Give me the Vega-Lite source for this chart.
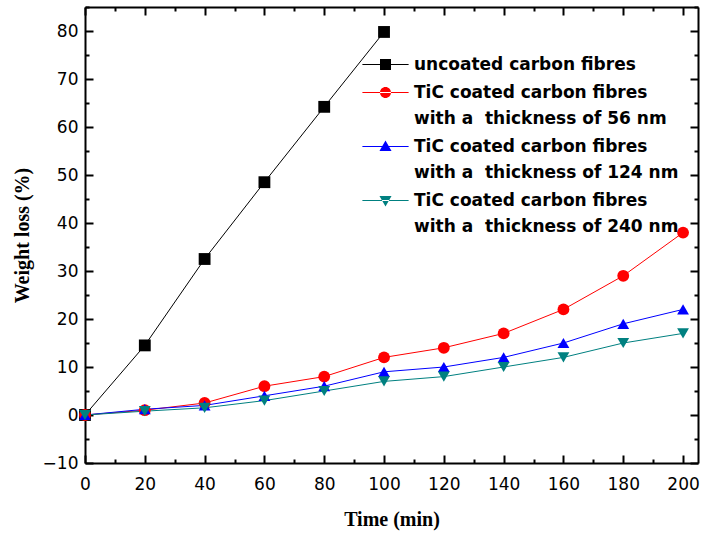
{
  "$schema": "https://vega.github.io/schema/vega-lite/v6.json",
  "autosize": {"type": "none"},
  "padding": {"left": 85, "top": 7, "right": 5, "bottom": 75},
  "width": 613,
  "height": 456,
  "background": "white",
  "config": {
    "view": {"stroke": null},
    "style": {"guide-label": {"lineHeight": 26.5}},
    "axis": {"labelFont": "DejaVu Sans", "labelFontSize": 17, "labelColor": "black", "labelFlush": false, "titleFont": "Liberation Serif", "titleFontSize": 20, "titleFontWeight": "bold", "titleColor": "black", "domainColor": "black", "domainWidth": 2, "tickColor": "black", "tickWidth": 2, "grid": false}
  },
  "data": {"values": [
    {"s": "uncoated carbon fibres", "t": 0, "w": 0},
    {"s": "uncoated carbon fibres", "t": 20, "w": 14.5},
    {"s": "uncoated carbon fibres", "t": 40, "w": 32.5},
    {"s": "uncoated carbon fibres", "t": 60, "w": 48.5},
    {"s": "uncoated carbon fibres", "t": 80, "w": 64.2},
    {"s": "uncoated carbon fibres", "t": 100, "w": 79.8},
    {"s": "TiC coated carbon fibres|with a\u00a0 thickness of 56 nm", "t": 0, "w": 0},
    {"s": "TiC coated carbon fibres|with a\u00a0 thickness of 56 nm", "t": 20, "w": 1},
    {"s": "TiC coated carbon fibres|with a\u00a0 thickness of 56 nm", "t": 40, "w": 2.5},
    {"s": "TiC coated carbon fibres|with a\u00a0 thickness of 56 nm", "t": 60, "w": 6},
    {"s": "TiC coated carbon fibres|with a\u00a0 thickness of 56 nm", "t": 80, "w": 8},
    {"s": "TiC coated carbon fibres|with a\u00a0 thickness of 56 nm", "t": 100, "w": 12},
    {"s": "TiC coated carbon fibres|with a\u00a0 thickness of 56 nm", "t": 120, "w": 14},
    {"s": "TiC coated carbon fibres|with a\u00a0 thickness of 56 nm", "t": 140, "w": 17},
    {"s": "TiC coated carbon fibres|with a\u00a0 thickness of 56 nm", "t": 160, "w": 22},
    {"s": "TiC coated carbon fibres|with a\u00a0 thickness of 56 nm", "t": 180, "w": 29},
    {"s": "TiC coated carbon fibres|with a\u00a0 thickness of 56 nm", "t": 200, "w": 38},
    {"s": "TiC coated carbon fibres|with a\u00a0 thickness of 124 nm", "t": 0, "w": 0},
    {"s": "TiC coated carbon fibres|with a\u00a0 thickness of 124 nm", "t": 20, "w": 1.2},
    {"s": "TiC coated carbon fibres|with a\u00a0 thickness of 124 nm", "t": 40, "w": 2},
    {"s": "TiC coated carbon fibres|with a\u00a0 thickness of 124 nm", "t": 60, "w": 4},
    {"s": "TiC coated carbon fibres|with a\u00a0 thickness of 124 nm", "t": 80, "w": 6},
    {"s": "TiC coated carbon fibres|with a\u00a0 thickness of 124 nm", "t": 100, "w": 9},
    {"s": "TiC coated carbon fibres|with a\u00a0 thickness of 124 nm", "t": 120, "w": 10},
    {"s": "TiC coated carbon fibres|with a\u00a0 thickness of 124 nm", "t": 140, "w": 12},
    {"s": "TiC coated carbon fibres|with a\u00a0 thickness of 124 nm", "t": 160, "w": 15},
    {"s": "TiC coated carbon fibres|with a\u00a0 thickness of 124 nm", "t": 180, "w": 19},
    {"s": "TiC coated carbon fibres|with a\u00a0 thickness of 124 nm", "t": 200, "w": 22},
    {"s": "TiC coated carbon fibres|with a\u00a0 thickness of 240 nm", "t": 0, "w": 0},
    {"s": "TiC coated carbon fibres|with a\u00a0 thickness of 240 nm", "t": 20, "w": 0.8},
    {"s": "TiC coated carbon fibres|with a\u00a0 thickness of 240 nm", "t": 40, "w": 1.5},
    {"s": "TiC coated carbon fibres|with a\u00a0 thickness of 240 nm", "t": 60, "w": 3},
    {"s": "TiC coated carbon fibres|with a\u00a0 thickness of 240 nm", "t": 80, "w": 5},
    {"s": "TiC coated carbon fibres|with a\u00a0 thickness of 240 nm", "t": 100, "w": 7},
    {"s": "TiC coated carbon fibres|with a\u00a0 thickness of 240 nm", "t": 120, "w": 8},
    {"s": "TiC coated carbon fibres|with a\u00a0 thickness of 240 nm", "t": 140, "w": 10},
    {"s": "TiC coated carbon fibres|with a\u00a0 thickness of 240 nm", "t": 160, "w": 12},
    {"s": "TiC coated carbon fibres|with a\u00a0 thickness of 240 nm", "t": 180, "w": 15},
    {"s": "TiC coated carbon fibres|with a\u00a0 thickness of 240 nm", "t": 200, "w": 17}
  ]},
  "resolve": {"scale": {"shape": "independent", "color": "independent"}, "axis": {"x": "independent", "y": "independent"}},
  "layer": [
    {
      "mark": {"type": "line", "strokeWidth": 1},
      "encoding": {
        "x": {"field": "t", "type": "quantitative", "scale": {"domain": [0, 205], "nice": false, "zero": false},
          "axis": {"title": "Time (min)", "orient": "bottom", "values": [0,10,20,30,40,50,60,70,80,90,100,110,120,130,140,150,160,170,180,190,200], "labelExpr": "datum.value % 20 === 0 ? datum.label : ''", "tickSize": {"condition": {"test": "datum.value % 20 === 0", "value": -8}, "value": -4}, "labelPadding": 21, "titlePadding": 17}},
        "y": {"field": "w", "type": "quantitative", "scale": {"domain": [-10, 85], "nice": false, "zero": false},
          "axis": {"title": "Weight loss (%)", "orient": "left", "values": [-10,-5,0,5,10,15,20,25,30,35,40,45,50,55,60,65,70,75,80,85], "labelExpr": "datum.value % 10 === 0 ? datum.label : ''", "tickSize": {"condition": {"test": "datum.value % 10 === 0", "value": -8}, "value": -4}, "labelPadding": 15, "titlePadding": 10}},
        "color": {"field": "s", "type": "nominal", "legend": null,
          "scale": {"domain": ["uncoated carbon fibres", "TiC coated carbon fibres|with a\u00a0 thickness of 56 nm", "TiC coated carbon fibres|with a\u00a0 thickness of 124 nm", "TiC coated carbon fibres|with a\u00a0 thickness of 240 nm"], "range": ["#000000", "#ff0000", "#0000ff", "#008080"]}},
        "detail": {"field": "s"}
      }
    },
    {
      "mark": {"type": "point", "filled": true, "opacity": 1, "size": 140},
      "encoding": {
        "x": {"field": "t", "type": "quantitative", "axis": {"title": null, "orient": "top", "labels": false, "values": [0,10,20,30,40,50,60,70,80,90,100,110,120,130,140,150,160,170,180,190,200], "tickSize": {"condition": {"test": "datum.value % 20 === 0", "value": -8}, "value": -4}}},
        "y": {"field": "w", "type": "quantitative", "axis": {"title": null, "orient": "right", "labels": false, "values": [-10,-5,0,5,10,15,20,25,30,35,40,45,50,55,60,65,70,75,80,85], "tickSize": {"condition": {"test": "datum.value % 10 === 0", "value": -8}, "value": -4}}},
        "color": {"field": "s", "type": "nominal", "legend": null,
          "scale": {"domain": ["uncoated carbon fibres", "TiC coated carbon fibres|with a\u00a0 thickness of 56 nm", "TiC coated carbon fibres|with a\u00a0 thickness of 124 nm", "TiC coated carbon fibres|with a\u00a0 thickness of 240 nm"], "range": ["#000000", "#ff0000", "#0000ff", "#008080"]}},
        "shape": {"field": "s", "type": "nominal", "legend": null,
          "scale": {"domain": ["uncoated carbon fibres", "TiC coated carbon fibres|with a\u00a0 thickness of 56 nm", "TiC coated carbon fibres|with a\u00a0 thickness of 124 nm", "TiC coated carbon fibres|with a\u00a0 thickness of 240 nm"], "range": ["square", "circle", "triangle-up", "triangle-down"]}}
      }
    },
    {
      "mark": {"type": "point", "filled": true, "opacity": 0, "size": 121},
      "encoding": {
        "x": {"field": "t", "type": "quantitative", "axis": null},
        "y": {"field": "w", "type": "quantitative", "axis": null},
        "color": {"field": "s", "type": "nominal",
          "scale": {"domain": ["uncoated carbon fibres", "TiC coated carbon fibres|with a\u00a0 thickness of 56 nm", "TiC coated carbon fibres|with a\u00a0 thickness of 124 nm", "TiC coated carbon fibres|with a\u00a0 thickness of 240 nm"], "range": ["#000000", "#ff0000", "#0000ff", "#008080"]},
          "legend": {"title": null, "orient": "none", "legendX": 292, "legendY": 41, "padding": 0, "symbolSize": 121, "symbolOpacity": 1, "symbolStrokeWidth": 0, "labelFont": "DejaVu Sans", "labelFontSize": 17, "labelFontWeight": "bold", "labelColor": "black", "labelOffset": 20, "labelLimit": 400, "rowPadding": 3, "labelBaseline": "top", "labelExpr": "split(datum.label, '|')"}},
        "shape": {"field": "s", "type": "nominal",
          "scale": {"domain": ["uncoated carbon fibres", "TiC coated carbon fibres|with a\u00a0 thickness of 56 nm", "TiC coated carbon fibres|with a\u00a0 thickness of 124 nm", "TiC coated carbon fibres|with a\u00a0 thickness of 240 nm"],
            "range": ["M-4.2,1.36H4.2V1.54H-4.2Z M-1,0.45H1V2.45H-1Z", "M-4.2,1.36H4.2V1.54H-4.2Z M-1,1.45A1,1,0,1,0,1,1.45A1,1,0,1,0,-1,1.45Z", "M-4.2,1.36H4.2V1.54H-4.2Z M0,0.35L1.1,2.25L-1.1,2.25Z", "M-4.2,1.36H4.2V1.54H-4.2Z M0,2.55L1.1,0.65L-1.1,0.65Z"]},
          "legend": {"title": null, "orient": "none", "legendX": 292, "legendY": 41, "padding": 0, "symbolSize": 121, "symbolOpacity": 1, "symbolStrokeWidth": 0, "labelFont": "DejaVu Sans", "labelFontSize": 17, "labelFontWeight": "bold", "labelColor": "black", "labelOffset": 20, "labelLimit": 400, "rowPadding": 3, "labelBaseline": "top", "labelExpr": "split(datum.label, '|')"}
        }
      }
    }
  ]
}
